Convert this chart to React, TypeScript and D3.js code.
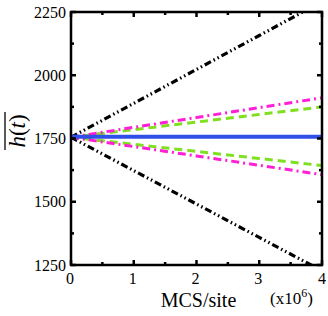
import React from 'react';
import * as d3 from 'd3';

// x in units of 10^6 MCS/site
const xs = [0, 1, 2, 3, 4];
const blueFlat = [1757, 1757, 1757, 1757, 1757];
const greenUp = [1755, 1785, 1815, 1845, 1875];
const greenDown = [1755, 1727, 1699, 1671, 1643];
const magentaUp = [1755, 1794, 1833, 1872, 1911];
const magentaDown = [1755, 1718, 1681, 1644, 1607];
const blackUp = [1755, 1889, 2023, 2157, 2291];
const blackDown = [1755, 1623, 1491, 1359, 1227];

const xTicks = [0, 1, 2, 3, 4];
const xMinor = [0.5, 1.5, 2.5, 3.5];
const yTicks = [1250, 1500, 1750, 2000, 2250];
const yMinor = [1375, 1625, 1875, 2125];

const series = [
    {values: blackUp, color: '#000', width: 3.2, dash: '7,3,1.5,3,1.5,3'},
    {values: blackDown, color: '#000', width: 3.2, dash: '7,3,1.5,3,1.5,3'},
    {values: greenUp, color: '#7fe01f', width: 3, dash: '8,5'},
    {values: greenDown, color: '#7fe01f', width: 3, dash: '8,5'},
    {values: magentaUp, color: '#ff1fd6', width: 3, dash: '8,4,2,4'},
    {values: magentaDown, color: '#ff1fd6', width: 3, dash: '8,4,2,4'},
    {values: blueFlat, color: '#2f4fe6', width: 4, dash: null},
];

export default function App() {
    const width = 328, height = 316;
    const margin = {left: 71, right: 6, top: 12, bottom: 51};
    const x0 = margin.left, x1 = width - margin.right;
    const y0 = height - margin.bottom, y1 = margin.top;

    const xScale = d3.scaleLinear().domain([0, 4]).range([x0, x1]);
    const yScale = d3.scaleLinear().domain([1250, 2250]).range([y0, y1]);

    const line = d3.line<number>()
        .x((d, i) => xScale(xs[i]))
        .y(d => yScale(d));

    const font = '"Liberation Serif", "Times New Roman", serif';

    return (
        <svg width={width} height={height}
             style={{position: 'absolute', left: 0, top: 0}}
             fontFamily={font}>
            <defs>
                <clipPath id='plotClip'>
                    <rect x={x0} y={y1} width={x1 - x0} height={y0 - y1} />
                </clipPath>
            </defs>
            <rect width={width} height={height} fill='#fff' />

            <g clipPath='url(#plotClip)'>
                {series.map((s, i) => (
                    <path key={i} d={line(s.values) || ''} fill='none'
                          stroke={s.color} strokeWidth={s.width}
                          strokeDasharray={s.dash || undefined}
                          strokeLinecap='butt' />
                ))}
            </g>

            {/* ticks, inward on all four sides */}
            <g stroke='#000' strokeWidth={2.5}>
                {xTicks.map(t => (
                    <g key={'xt' + t}>
                        <line x1={xScale(t)} x2={xScale(t)} y1={y0} y2={y0 - 5} />
                        <line x1={xScale(t)} x2={xScale(t)} y1={y1} y2={y1 + 5} />
                    </g>
                ))}
                {xMinor.map(t => (
                    <g key={'xm' + t}>
                        <line x1={xScale(t)} x2={xScale(t)} y1={y0} y2={y0 - 3} />
                        <line x1={xScale(t)} x2={xScale(t)} y1={y1} y2={y1 + 3} />
                    </g>
                ))}
                {yTicks.map(t => (
                    <g key={'yt' + t}>
                        <line x1={x0} x2={x0 + 5} y1={yScale(t)} y2={yScale(t)} />
                        <line x1={x1} x2={x1 - 5} y1={yScale(t)} y2={yScale(t)} />
                    </g>
                ))}
                {yMinor.map(t => (
                    <g key={'ym' + t}>
                        <line x1={x0} x2={x0 + 3} y1={yScale(t)} y2={yScale(t)} />
                        <line x1={x1} x2={x1 - 3} y1={yScale(t)} y2={yScale(t)} />
                    </g>
                ))}
            </g>

            <rect x={x0} y={y1} width={x1 - x0} height={y0 - y1}
                  fill='none' stroke='#000' strokeWidth={2.5} />

            {/* tick labels */}
            <g fontSize={16} fill='#000'>
                {yTicks.map(t => (
                    <text key={'yl' + t} x={x0 - 5} y={yScale(t)} dy='0.35em'
                          textAnchor='end'>{t}</text>
                ))}
                {xTicks.map(t => (
                    <text key={'xl' + t} x={xScale(t) - (t === 4 ? 0 : 1)} y={y0 + 19}
                          textAnchor='middle'>{t}</text>
                ))}
            </g>

            <text x={(x0 + x1) / 2 + 2} y={307} fontSize={20} textAnchor='middle'>MCS/site</text>
            <text x={270} y={304} fontSize={17}>
                (x10<tspan dy={-7} fontSize={12}>6</tspan><tspan dy={7}>)</tspan>
            </text>

            <g transform='translate(25,131) rotate(-90)'>
                <text x={0} y={0} fontSize={23} textAnchor='middle'>
                    <tspan fontStyle='italic'>h</tspan>(<tspan fontStyle='italic'>t</tspan>)
                </text>
                <line x1={-19} x2={19} y1={-20} y2={-20} stroke='#000' strokeWidth={1.3} />
            </g>
        </svg>
    );
}
